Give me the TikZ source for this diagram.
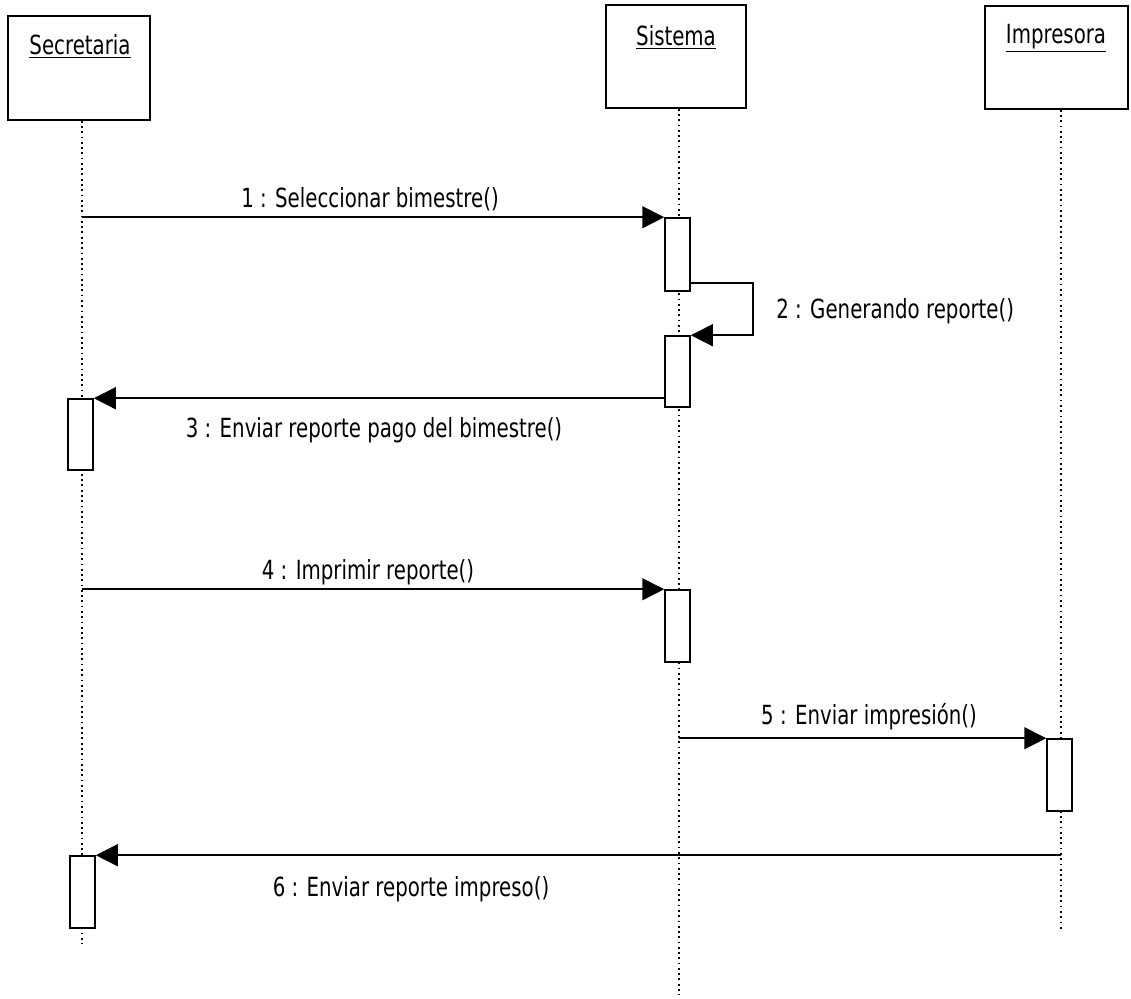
\documentclass[tikz,border=0pt]{standalone}
\usepackage{fontspec}
\setmainfont{DejaVu Sans}[FakeStretch=0.75]
\usetikzlibrary{arrows.meta}
\begin{document}
\begin{tikzpicture}[x=0.02cm,y=-0.02cm,
  font=\fontsize{15pt}{17pt}\selectfont,
  actor/.style={draw,line width=0.9pt,fill=white,inner sep=0pt},
  act/.style={draw,line width=0.9pt,fill=white,inner sep=0pt,minimum width=0.5cm},
  life/.style={line width=1pt,dash pattern=on 1pt off 2pt},
  msg/.style={line width=0.9pt,-{Triangle[length=12.5pt,width=12.5pt]}},
  lbl/.style={inner sep=0pt}]
\useasboundingbox (0,0) rectangle (1131,998);
% actors
\node[actor,minimum width=2.84cm,minimum height=2.08cm] (sec) at (79,68) {};
\node[actor,minimum width=2.80cm,minimum height=2.06cm] (sis) at (676,56.5) {};
\node[actor,minimum width=2.86cm,minimum height=2.06cm] (imp) at (1056.5,57.5) {};
\node[lbl] (secT) at (80,46) {\underline{Secretaria}};
\node[lbl] (sisT) at (676,37) {\underline{Sistema}};
\node[lbl] (impT) at (1056,38) {\underline{Impresora}};
% lifeline ends
\coordinate (secE) at (82,944);
\coordinate (sisE) at (679,995);
\coordinate (impE) at (1061,931);
\draw[life] (sec.south -| secE) -- (secE);
\draw[life] (sis.south -| sisE) -- (sisE);
\draw[life] (imp.south -| impE) -- (impE);
% activations
\node[act,minimum height=1.46cm] (a1) at (677.5,254.5) {};
\node[act,minimum height=1.42cm] (a2) at (677.5,371.5) {};
\node[act,minimum height=1.42cm] (b1) at (80.5,434.5) {};
\node[act,minimum height=1.44cm] (a3) at (677.5,626) {};
\node[act,minimum height=1.44cm] (p1) at (1059.5,775) {};
\node[act,minimum height=1.44cm] (b2) at (82.5,892) {};
% self message corners
\coordinate (m2a) at (753,283);
\coordinate (m2b) at (753,336);
% messages
\draw[msg] (secE |- a1.north) -- (a1.north west);
\draw[msg] (a1.east |- m2a) -- (m2a) -- (m2a |- a2.north) -- (a2.north east);
\draw[msg] (a2.west |- b1.north) -- (b1.north east);
\draw[msg] (secE |- a3.north) -- (a3.north west);
\draw[msg] (sisE |- p1.north) -- (p1.north west);
\draw[msg] (impE |- b2.north) -- (b2.north east);
% labels
\node[lbl] (l1) at (370,199) {1 : Seleccionar bimestre()};
\node[lbl,anchor=west] (l2) at (776,311) {2 : Generando reporte()};
\node[lbl] (l3) at (374,430) {3 : Enviar reporte pago del bimestre()};
\node[lbl] (l4) at (368,572) {4 : Imprimir reporte()};
\node[lbl] (l5) at (869,717) {5 : Enviar impresión()};
\node[lbl] (l6) at (411,889) {6 : Enviar reporte impreso()};
\end{tikzpicture}
\end{document}
